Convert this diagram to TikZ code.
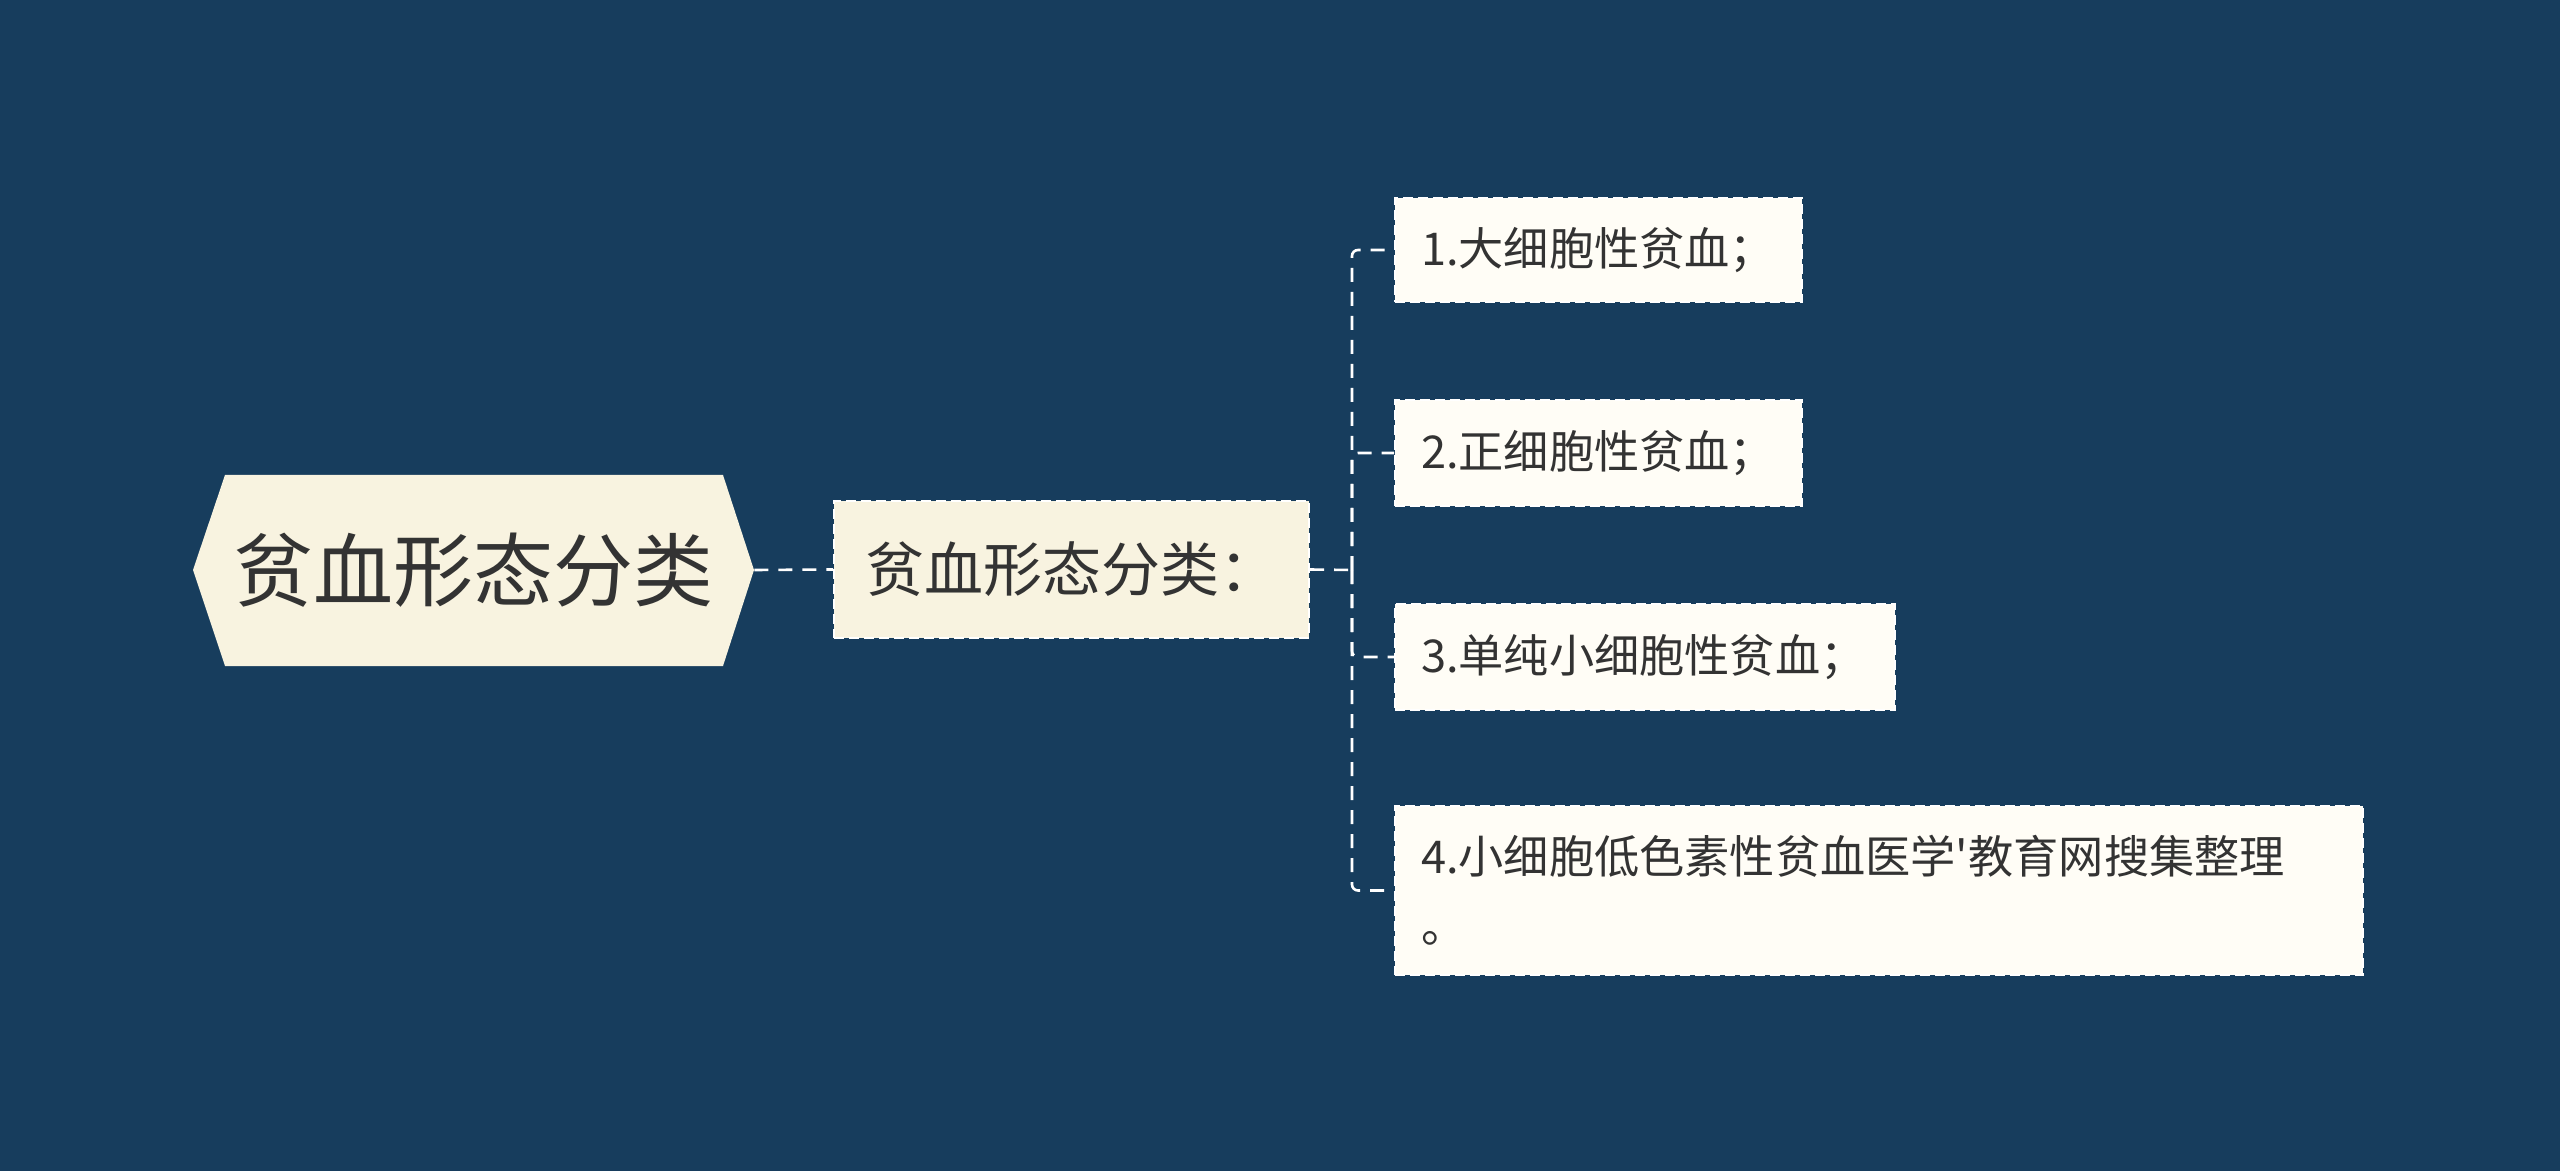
\documentclass[tikz,border=0pt]{standalone}
\usepackage{fontspec}
\setmainfont{Noto Sans CJK SC}[Ligatures=TeXOff]
\definecolor{bg}{HTML}{173D5D}
\definecolor{cream}{HTML}{F8F3E0}
\definecolor{leaffill}{HTML}{FFFDF6}
\definecolor{ink}{HTML}{333333}
\begin{document}
\begin{tikzpicture}[x=0.5pt,y=-0.5pt,
  conn/.style={draw=white,line width=1.3pt,dash pattern=on 7pt off 5pt,rounded corners=3pt},
  boxdash/.style={draw=white,line width=1pt,dash pattern=on 5pt off 2.5pt},
  childbox/.style={boxdash,fill=cream,text=ink,minimum width=237.5pt,minimum height=68.5pt,
    inner xsep=12pt,font=\fontsize{29.5}{35}\selectfont},
  leafbox/.style={boxdash,fill=leaffill,text=ink,anchor=west,inner xsep=13pt,align=left,
    font=\fontsize{22.6}{34.5}\selectfont}]
\useasboundingbox (0,0) rectangle (2560,1171);
\fill[bg] (0,0) rectangle (2560,1171);
% root hexagon
\fill[cream] (193,570) -- (225,475) -- (723,475) -- (754,570) -- (723,666) -- (225,666) -- cycle;
\node[text=ink,font=\fontsize{40}{48}\selectfont,minimum width=280.5pt,minimum height=95.5pt,inner sep=0pt] (root) at (473.5,570) {贫血形态分类};
% child
\node[childbox] (child) at (1071.5,569.5) {贫血形态分类：};
% leaves
\node[leafbox,minimum height=52pt,text width=177.5pt] (l1) at (1394,250) {1.大细胞性贫血；};
\node[leafbox,minimum height=53pt,text width=177.5pt] (l2) at (1394,453) {2.正细胞性贫血；};
\node[leafbox,minimum height=53pt,text width=224pt] (l3) at (1394,657) {3.单纯小细胞性贫血；};
\node[leafbox,minimum height=84.5pt,text width=458pt] (l4) at (1394,890.5) {4.小细胞低色素性贫血医学'教育网搜集整理\\。};
% connectors
\coordinate (tx) at (1352,570);
\draw[conn] (root.east) -- (child.west);
\draw[conn] (child.east) -- (tx);
\draw[conn] (tx) |- (l1.west);
\draw[conn] (tx) |- (l2.west);
\draw[conn] (tx) |- (l3.west);
\draw[conn] (tx) |- (l4.west);
\end{tikzpicture}
\end{document}
